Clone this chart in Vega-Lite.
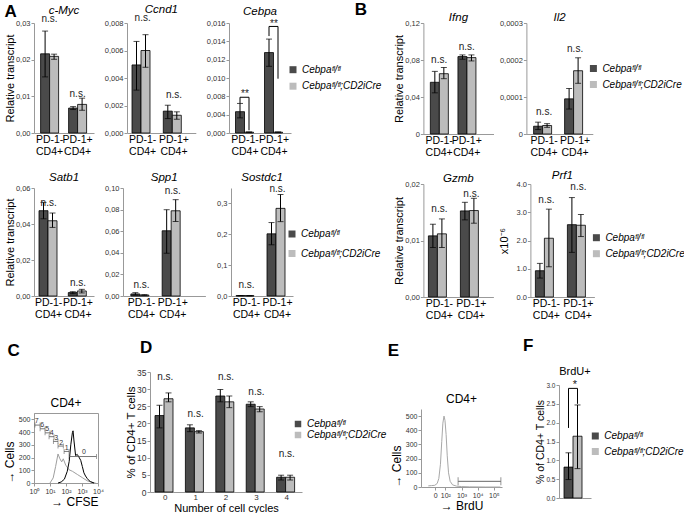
{
"$schema":"https://vega.github.io/schema/vega-lite/v6.json",
"padding":{"left":2,"top":0,"right":0,"bottom":0},
"config":{
 "font":"Liberation Sans",
 "view":{"stroke":null},
 "axis":{"labelFont":"Liberation Sans","titleFont":"Liberation Sans","labelFontSize":7.5,"labelColor":"#333","titleFontSize":11,"titleFontWeight":"normal","titleColor":"#000","domainColor":"#999","tickColor":"#999","tickSize":3,"labelPadding":1,"titlePadding":0,"grid":false,"labelFlush":false,"labelOverlap":false},
 "axisX":{"labelAngle":0},
 "axisBand":{"labelFontSize":10.5,"labelColor":"#000","labelLineHeight":12,"ticks":false},
 "title":{"font":"Liberation Sans","fontSize":11.5,"fontStyle":"italic","fontWeight":"normal","color":"#000","offset":1},
 "legend":{"orient":"none","labelFont":"Liberation Sans","labelFontSize":10,"labelFontStyle":"italic","labelColor":"#000","symbolType":"square","symbolSize":49,"symbolStrokeWidth":0,"rowPadding":6,"labelOffset":4,"labelLimit":300,"padding":0}
},
"datasets":{
 "bars":[
  {"p":"myc","g":"n","k":"a","v":0.0216,"lo":0.0153,"hi":0.0278},
  {"p":"myc","g":"n","k":"b","v":0.0209,"lo":0.0201,"hi":0.0215},
  {"p":"myc","g":"p","k":"a","v":0.0068,"lo":0.0064,"hi":0.0072},
  {"p":"myc","g":"p","k":"b","v":0.0078,"lo":0.0062,"hi":0.0095},
  {"p":"ccnd1","g":"n","k":"a","v":0.00495,"lo":0.00312,"hi":0.00666},
  {"p":"ccnd1","g":"n","k":"b","v":0.006,"lo":0.00478,"hi":0.00715},
  {"p":"ccnd1","g":"p","k":"a","v":0.00159,"lo":0.00105,"hi":0.00202},
  {"p":"ccnd1","g":"p","k":"b","v":0.00129,"lo":0.001,"hi":0.00154},
  {"p":"cebpa","g":"n","k":"a","v":0.0031,"lo":0.0022,"hi":0.0043},
  {"p":"cebpa","g":"n","k":"b","v":0.00012,"lo":0.00008,"hi":0.00016},
  {"p":"cebpa","g":"p","k":"a","v":0.0117,"lo":0.0097,"hi":0.01366},
  {"p":"cebpa","g":"p","k":"b","v":0.00012,"lo":0.00008,"hi":0.00016},
  {"p":"satb1","g":"n","k":"a","v":0.0474,"lo":0.0429,"hi":0.052},
  {"p":"satb1","g":"n","k":"b","v":0.0418,"lo":0.0381,"hi":0.0461},
  {"p":"satb1","g":"p","k":"a","v":0.0019,"lo":0.0013,"hi":0.0024},
  {"p":"satb1","g":"p","k":"b","v":0.0028,"lo":0.0017,"hi":0.0037},
  {"p":"spp1","g":"n","k":"a","v":0.0019,"lo":0.0009,"hi":0.0031},
  {"p":"spp1","g":"n","k":"b","v":0.0009,"lo":0.0006,"hi":0.0012},
  {"p":"spp1","g":"p","k":"a","v":0.0604,"lo":0.0396,"hi":0.0799},
  {"p":"spp1","g":"p","k":"b","v":0.0789,"lo":0.069,"hi":0.0892},
  {"p":"sost","g":"n","k":"a","v":0.0012,"lo":0.0008,"hi":0.0016},
  {"p":"sost","g":"n","k":"b","v":0.001,"lo":0.0008,"hi":0.0012},
  {"p":"sost","g":"p","k":"a","v":0.2015,"lo":0.166,"hi":0.238},
  {"p":"sost","g":"p","k":"b","v":0.284,"lo":0.241,"hi":0.329},
  {"p":"ifng","g":"n","k":"a","v":0.0559,"lo":0.0445,"hi":0.0677},
  {"p":"ifng","g":"n","k":"b","v":0.0652,"lo":0.0598,"hi":0.0719},
  {"p":"ifng","g":"p","k":"a","v":0.0837,"lo":0.0808,"hi":0.0855},
  {"p":"ifng","g":"p","k":"b","v":0.0826,"lo":0.079,"hi":0.0855},
  {"p":"il2","g":"n","k":"a","v":0.000021,"lo":0.000012,"hi":0.000032},
  {"p":"il2","g":"n","k":"b","v":0.000023,"lo":0.000018,"hi":0.000028},
  {"p":"il2","g":"p","k":"a","v":0.000095,"lo":0.0000674,"hi":0.000123},
  {"p":"il2","g":"p","k":"b","v":0.000171,"lo":0.000137,"hi":0.000206},
  {"p":"gzmb","g":"n","k":"a","v":0.01082,"lo":0.00876,"hi":0.01288},
  {"p":"gzmb","g":"n","k":"b","v":0.01118,"lo":0.00876,"hi":0.01382},
  {"p":"gzmb","g":"p","k":"a","v":0.01524,"lo":0.01365,"hi":0.01676},
  {"p":"gzmb","g":"p","k":"b","v":0.0153,"lo":0.01306,"hi":0.01747},
  {"p":"prf1","g":"n","k":"a","v":0.93,"lo":0.67,"hi":1.19},
  {"p":"prf1","g":"n","k":"b","v":2.08,"lo":1.07,"hi":3.11},
  {"p":"prf1","g":"p","k":"a","v":2.56,"lo":1.58,"hi":3.52},
  {"p":"prf1","g":"p","k":"b","v":2.54,"lo":2.14,"hi":2.92},
  {"p":"cyc","g":"0","k":"a","v":22.3,"lo":18.7,"hi":25.3},
  {"p":"cyc","g":"0","k":"b","v":27.2,"lo":26.3,"hi":28.9},
  {"p":"cyc","g":"1","k":"a","v":18.7,"lo":17.6,"hi":19.6},
  {"p":"cyc","g":"1","k":"b","v":17.6,"lo":17.2,"hi":17.9},
  {"p":"cyc","g":"2","k":"a","v":28.0,"lo":26.3,"hi":29.9},
  {"p":"cyc","g":"2","k":"b","v":26.3,"lo":24.6,"hi":28.0},
  {"p":"cyc","g":"3","k":"a","v":25.6,"lo":24.9,"hi":26.3},
  {"p":"cyc","g":"3","k":"b","v":24.2,"lo":23.4,"hi":24.9},
  {"p":"cyc","g":"4","k":"a","v":4.3,"lo":3.5,"hi":4.9},
  {"p":"cyc","g":"4","k":"b","v":4.3,"lo":3.5,"hi":4.9},
  {"p":"brdu","g":"x","k":"a","v":0.82,"lo":0.49,"hi":1.2},
  {"p":"brdu","g":"x","k":"b","v":1.64,"lo":0.78,"hi":2.47}
 ],
 "ns":[
  {"p":"myc","g":"n","y":0.0311,"t":"n.s."},{"p":"myc","g":"p","y":0.0107,"t":"n.s."},
  {"p":"ccnd1","g":"n","y":0.00837,"t":"n.s."},{"p":"ccnd1","g":"p","y":0.00276,"t":"n.s."},
  {"p":"cebpa","g":"n","y":0.0057,"t":"**"},{"p":"cebpa","g":"p","y":0.0159,"t":"**"},
  {"p":"satb1","g":"n","y":0.0516,"t":"n.s."},{"p":"satb1","g":"p","y":0.0071,"t":"n.s."},
  {"p":"spp1","g":"n","y":0.0102,"t":"n.s."},{"p":"spp1","g":"p","y":0.0969,"t":"n.s."},
  {"p":"sost","g":"n","y":0.035,"t":"n.s."},{"p":"sost","g":"p","y":0.347,"t":"n.s."},
  {"p":"ifng","g":"n","y":0.08,"t":"n.s."},{"p":"ifng","g":"p","y":0.094,"t":"n.s."},
  {"p":"il2","g":"n","y":0.00006,"t":"n.s."},{"p":"il2","g":"p","y":0.000229,"t":"n.s."},
  {"p":"gzmb","g":"n","y":0.0155,"t":"n.s."},{"p":"gzmb","g":"p","y":0.0182,"t":"n.s."},
  {"p":"prf1","g":"n","y":3.43,"t":"n.s."},{"p":"prf1","g":"p","y":3.9,"t":"n.s."},
  {"p":"cyc","g":"0","y":33.4,"t":"n.s."},{"p":"cyc","g":"1","y":22.7,"t":"n.s."},{"p":"cyc","g":"2","y":33.4,"t":"n.s."},{"p":"cyc","g":"3","y":29.3,"t":"n.s."},{"p":"cyc","g":"4","y":11.1,"t":"n.s."},
  {"p":"brdu","g":"x","y":3.0,"t":"*"}
 ],
 "br":[
  {"p":"cebpa","id":"c1","g":"n","k":"a","y":0.0043,"o":1},{"p":"cebpa","id":"c1","g":"n","k":"a","y":0.0052,"o":2},{"p":"cebpa","id":"c1","g":"n","k":"b","y":0.0052,"o":3},{"p":"cebpa","id":"c1","g":"n","k":"b","y":0.0004,"o":4},
  {"p":"cebpa","id":"c2","g":"p","k":"a","y":0.0141,"o":1},{"p":"cebpa","id":"c2","g":"p","k":"a","y":0.0155,"o":2},{"p":"cebpa","id":"c2","g":"p","k":"b","y":0.0155,"o":3},{"p":"cebpa","id":"c2","g":"p","k":"b","y":0.0079,"o":4},
  {"p":"brdu","id":"f1","g":"x","k":"a","y":1.86,"o":1},{"p":"brdu","id":"f1","g":"x","k":"a","y":2.91,"o":2},{"p":"brdu","id":"f1","g":"x","k":"b","y":2.91,"o":3},{"p":"brdu","id":"f1","g":"x","k":"b","y":2.5,"o":4}
 ],
 "cfse":[
  {"s":"g","x":1.0,"y":0},{"s":"g","x":1.2,"y":40},{"s":"g","x":1.35,"y":129},{"s":"g","x":1.5,"y":228},{"s":"g","x":1.62,"y":190},{"s":"g","x":1.73,"y":166},{"s":"g","x":1.83,"y":190},{"s":"g","x":1.98,"y":141},{"s":"g","x":2.19,"y":104},{"s":"g","x":2.4,"y":92},{"s":"g","x":2.71,"y":67},{"s":"g","x":3.02,"y":42},{"s":"g","x":3.33,"y":17},{"s":"g","x":3.65,"y":5},{"s":"g","x":3.85,"y":0},
  {"s":"k","x":1.5,"y":0},{"s":"k","x":1.7,"y":8},{"s":"k","x":1.9,"y":30},{"s":"k","x":2.08,"y":92},{"s":"k","x":2.2,"y":170},{"s":"k","x":2.3,"y":300},{"s":"k","x":2.4,"y":396},{"s":"k","x":2.44,"y":410},{"s":"k","x":2.5,"y":330},{"s":"k","x":2.6,"y":215},{"s":"k","x":2.7,"y":225},{"s":"k","x":2.8,"y":205},{"s":"k","x":2.92,"y":178},{"s":"k","x":3.02,"y":130},{"s":"k","x":3.12,"y":80},{"s":"k","x":3.22,"y":55},{"s":"k","x":3.33,"y":35},{"s":"k","x":3.45,"y":18},{"s":"k","x":3.54,"y":10},{"s":"k","x":3.75,"y":0}
 ],
 "gates":[
  {"n":"7","x1":0.06,"x2":0.38,"y":455,"lx":0.17,"ly":488},
  {"n":"6","x1":0.38,"x2":0.69,"y":426,"lx":0.52,"ly":455},
  {"n":"5","x1":0.69,"x2":1.0,"y":394,"lx":0.83,"ly":421},
  {"n":"4","x1":0.94,"x2":1.25,"y":364,"lx":1.1,"ly":389},
  {"n":"3","x1":1.21,"x2":1.5,"y":327,"lx":1.38,"ly":351},
  {"n":"2","x1":1.5,"x2":1.83,"y":290,"lx":1.7,"ly":314},
  {"n":"1","x1":1.88,"x2":2.19,"y":248,"lx":2.05,"ly":277},
  {"n":"0","x1":2.19,"x2":3.9,"y":208,"lx":3.12,"ly":240}
 ],
 "brd":[
  {"x":0.95,"y":8},{"x":1.15,"y":10},{"x":1.35,"y":12},{"x":1.5,"y":25},{"x":1.6,"y":60},{"x":1.7,"y":160},{"x":1.78,"y":320},{"x":1.85,"y":450},{"x":1.92,"y":500},{"x":1.98,"y":470},{"x":2.05,"y":370},{"x":2.12,"y":220},{"x":2.2,"y":100},{"x":2.3,"y":40},{"x":2.45,"y":15},{"x":2.7,"y":6},{"x":3.0,"y":3},{"x":3.5,"y":1},{"x":4.5,"y":0},{"x":5.4,"y":0}
 ],
 "bgate":[{"x1":2.79,"x2":5.43,"y":40}]
},
"resolve":{"scale":{"color":"independent"},"legend":{"color":"independent"}},
"spacing":15,
"vconcat":[
 {"bounds":"flush","spacing":389.4,
  "resolve":{"scale":{"color":"independent"},"legend":{"color":"independent"}},
  "hconcat":[
  {"title":{"text":"A","anchor":"start","fontSize":17,"fontWeight":"bold","fontStyle":"normal","offset":-17.5},
   "spacing":14,
   "resolve":{"scale":{"color":"independent"},"legend":{"color":"independent"}},
   "vconcat":[
    {"spacing":10,"resolve":{"scale":{"color":"independent"},"legend":{"color":"independent"}},
     "hconcat":[
      {"width":60,"height":110,"title":{"text":"c-Myc","offset":-2.5},
       "layer":[
        {"data":{"name":"bars"},"transform":[{"filter":"datum.p=='myc'"}],"mark":{"type":"bar","stroke":"#000","strokeWidth":0.8},
         "encoding":{"x":{"field":"g","type":"nominal","title":null,"scale":{"paddingInner":0,"paddingOuter":0.071,"align":0.4},"axis":{"labelExpr":"datum.value=='n'?['PD-1-','CD4+']:['PD-1+','CD4+']"}},
          "xOffset":{"field":"k","type":"nominal","scale":{"paddingInner":0,"paddingOuter":0.556}},
          "y":{"field":"v","type":"quantitative","title":"Relative transcript","scale":{"domain":[0,0.03]},"axis":{"tickCount":40,"values":[0,0.01,0.02,0.03],"labelExpr":"replace(format(datum.value,'.2f'),'.',',')"}},
          "color":{"field":"k","type":"nominal","scale":{"domain":["a","b"],"range":["#4a4a4a","#bcbcbc"]},"legend":null}}},
        {"data":{"name":"bars"},"transform":[{"filter":"datum.p=='myc'"}],"mark":{"type":"rule","color":"#000"},"encoding":{"x":{"field":"g","type":"nominal"},"xOffset":{"field":"k","type":"nominal"},"y":{"field":"lo","type":"quantitative"},"y2":{"field":"hi"}}},
        {"data":{"name":"bars"},"transform":[{"filter":"datum.p=='myc'"}],"mark":{"type":"tick","color":"#000","thickness":1,"size":6,"orient":"horizontal"},"encoding":{"x":{"field":"g","type":"nominal"},"xOffset":{"field":"k","type":"nominal"},"y":{"field":"lo","type":"quantitative"}}},
        {"data":{"name":"bars"},"transform":[{"filter":"datum.p=='myc'"}],"mark":{"type":"tick","color":"#000","thickness":1,"size":6,"orient":"horizontal"},"encoding":{"x":{"field":"g","type":"nominal"},"xOffset":{"field":"k","type":"nominal"},"y":{"field":"hi","type":"quantitative"}}},
        {"data":{"name":"ns"},"transform":[{"filter":"datum.p=='myc'"}],"mark":{"type":"text","fontSize":10,"color":"#222","baseline":"middle"},"encoding":{"x":{"field":"g","type":"nominal"},"y":{"field":"y","type":"quantitative"},"text":{"field":"t"}}}
       ]},
      {"width":68.8,"height":110,"title":{"text":"Ccnd1","offset":-2.5},
       "layer":[
        {"data":{"name":"bars"},"transform":[{"filter":"datum.p=='ccnd1'"}],"mark":{"type":"bar","stroke":"#000","strokeWidth":0.8},
         "encoding":{"x":{"field":"g","type":"nominal","title":null,"scale":{"paddingInner":0,"paddingOuter":0.099,"align":0},"axis":{"labelExpr":"datum.value=='n'?['PD-1-','CD4+']:['PD-1+','CD4+']"}},
          "xOffset":{"field":"k","type":"nominal","scale":{"paddingInner":0,"paddingOuter":0.74}},
          "y":{"field":"v","type":"quantitative","title":null,"scale":{"domain":[0,0.008]},"axis":{"tickCount":40,"values":[0,0.002,0.004,0.006,0.008],"labelExpr":"replace(format(datum.value,'.3f'),'.',',')"}},
          "color":{"field":"k","type":"nominal","scale":{"domain":["a","b"],"range":["#4a4a4a","#bcbcbc"]},"legend":null}}},
        {"data":{"name":"bars"},"transform":[{"filter":"datum.p=='ccnd1'"}],"mark":{"type":"rule","color":"#000"},"encoding":{"x":{"field":"g","type":"nominal"},"xOffset":{"field":"k","type":"nominal"},"y":{"field":"lo","type":"quantitative"},"y2":{"field":"hi"}}},
        {"data":{"name":"bars"},"transform":[{"filter":"datum.p=='ccnd1'"}],"mark":{"type":"tick","color":"#000","thickness":1,"size":6,"orient":"horizontal"},"encoding":{"x":{"field":"g","type":"nominal"},"xOffset":{"field":"k","type":"nominal"},"y":{"field":"lo","type":"quantitative"}}},
        {"data":{"name":"bars"},"transform":[{"filter":"datum.p=='ccnd1'"}],"mark":{"type":"tick","color":"#000","thickness":1,"size":6,"orient":"horizontal"},"encoding":{"x":{"field":"g","type":"nominal"},"xOffset":{"field":"k","type":"nominal"},"y":{"field":"hi","type":"quantitative"}}},
        {"data":{"name":"ns"},"transform":[{"filter":"datum.p=='ccnd1'"}],"mark":{"type":"text","fontSize":10,"color":"#222","baseline":"middle"},"encoding":{"x":{"field":"g","type":"nominal"},"y":{"field":"y","type":"quantitative"},"text":{"field":"t"}}}
       ]},
      {"width":62,"height":110,"title":{"text":"Cebpa","offset":1.5},
       "layer":[
        {"data":{"name":"bars"},"transform":[{"filter":"datum.p=='cebpa'"}],"mark":{"type":"bar","stroke":"#000","strokeWidth":0.8},
         "encoding":{"x":{"field":"g","type":"nominal","title":null,"scale":{"paddingInner":0,"paddingOuter":0.069,"align":0.375},"axis":{"labelExpr":"datum.value=='n'?['PD-1-','CD4+']:['PD-1+','CD4+']"}},
          "xOffset":{"field":"k","type":"nominal","scale":{"paddingInner":0,"paddingOuter":0.61}},
          "y":{"field":"v","type":"quantitative","title":null,"scale":{"domain":[0,0.016]},"axis":{"tickCount":40,"values":[0,0.0026667,0.0053333,0.008,0.0106667,0.0133333,0.016],"labelExpr":"['0,000','0,004','0,008','0,010','0,012','0,014','0,016'][round(datum.value*375)]"}},
          "color":{"field":"k","type":"nominal","scale":{"domain":["a","b"],"range":["#4a4a4a","#bcbcbc"]},"legend":{"title":null,"legendX":59,"legendY":41.7,"rowPadding":6.5,"labelExpr":"datum.label=='a'?'Cebpaᶠˡ/ᶠˡ':'Cebpaᶠˡ/ᶠˡ;CD2iCre'"}}}},
        {"data":{"name":"bars"},"transform":[{"filter":"datum.p=='cebpa'"}],"mark":{"type":"rule","color":"#000"},"encoding":{"x":{"field":"g","type":"nominal"},"xOffset":{"field":"k","type":"nominal"},"y":{"field":"lo","type":"quantitative"},"y2":{"field":"hi"}}},
        {"data":{"name":"bars"},"transform":[{"filter":"datum.p=='cebpa'"}],"mark":{"type":"tick","color":"#000","thickness":1,"size":6,"orient":"horizontal"},"encoding":{"x":{"field":"g","type":"nominal"},"xOffset":{"field":"k","type":"nominal"},"y":{"field":"lo","type":"quantitative"}}},
        {"data":{"name":"bars"},"transform":[{"filter":"datum.p=='cebpa'"}],"mark":{"type":"tick","color":"#000","thickness":1,"size":6,"orient":"horizontal"},"encoding":{"x":{"field":"g","type":"nominal"},"xOffset":{"field":"k","type":"nominal"},"y":{"field":"hi","type":"quantitative"}}},
        {"data":{"name":"br"},"transform":[{"filter":"datum.p=='cebpa'"}],"mark":{"type":"line","color":"#000","strokeWidth":1},"encoding":{"x":{"field":"g","type":"nominal"},"xOffset":{"field":"k","type":"nominal"},"y":{"field":"y","type":"quantitative"},"detail":{"field":"id"},"order":{"field":"o"}}},
        {"data":{"name":"ns"},"transform":[{"filter":"datum.p=='cebpa'"}],"mark":{"type":"text","fontSize":10,"color":"#222","baseline":"middle"},"encoding":{"x":{"field":"g","type":"nominal"},"y":{"field":"y","type":"quantitative"},"text":{"field":"t"}}}
       ]}
     ]},
    {"spacing":10,"resolve":{"scale":{"color":"independent"},"legend":{"color":"independent"}},
     "hconcat":[
      {"width":60,"height":108,"title":{"text":"Satb1"},
       "layer":[
        {"data":{"name":"bars"},"transform":[{"filter":"datum.p=='satb1'"}],"mark":{"type":"bar","stroke":"#000","strokeWidth":0.8},
         "encoding":{"x":{"field":"g","type":"nominal","title":null,"scale":{"paddingInner":0,"paddingOuter":0.024,"align":0},"axis":{"labelExpr":"datum.value=='n'?['PD-1-','CD4+']:['PD-1+','CD4+']"}},
          "xOffset":{"field":"k","type":"nominal","scale":{"paddingInner":0,"paddingOuter":0.63}},
          "y":{"field":"v","type":"quantitative","title":"Relative transcript","scale":{"domain":[0,0.06]},"axis":{"tickCount":40,"values":[0,0.02,0.04,0.06],"labelExpr":"replace(format(datum.value,'.2f'),'.',',')"}},
          "color":{"field":"k","type":"nominal","scale":{"domain":["a","b"],"range":["#4a4a4a","#bcbcbc"]},"legend":null}}},
        {"data":{"name":"bars"},"transform":[{"filter":"datum.p=='satb1'"}],"mark":{"type":"rule","color":"#000"},"encoding":{"x":{"field":"g","type":"nominal"},"xOffset":{"field":"k","type":"nominal"},"y":{"field":"lo","type":"quantitative"},"y2":{"field":"hi"}}},
        {"data":{"name":"bars"},"transform":[{"filter":"datum.p=='satb1'"}],"mark":{"type":"tick","color":"#000","thickness":1,"size":6,"orient":"horizontal"},"encoding":{"x":{"field":"g","type":"nominal"},"xOffset":{"field":"k","type":"nominal"},"y":{"field":"lo","type":"quantitative"}}},
        {"data":{"name":"bars"},"transform":[{"filter":"datum.p=='satb1'"}],"mark":{"type":"tick","color":"#000","thickness":1,"size":6,"orient":"horizontal"},"encoding":{"x":{"field":"g","type":"nominal"},"xOffset":{"field":"k","type":"nominal"},"y":{"field":"hi","type":"quantitative"}}},
        {"data":{"name":"ns"},"transform":[{"filter":"datum.p=='satb1'"}],"mark":{"type":"text","fontSize":10,"color":"#222","baseline":"middle"},"encoding":{"x":{"field":"g","type":"nominal"},"y":{"field":"y","type":"quantitative"},"text":{"field":"t"}}}
       ]},
      {"width":82.4,"height":108,"title":{"text":"Spp1"},
       "layer":[
        {"data":{"name":"bars"},"transform":[{"filter":"datum.p=='spp1'"}],"mark":{"type":"bar","stroke":"#000","strokeWidth":0.8},
         "encoding":{"x":{"field":"g","type":"nominal","title":null,"scale":{"paddingInner":0,"paddingOuter":0.316,"align":0.144},"axis":{"labelExpr":"datum.value=='n'?['PD-1-','CD4+']:['PD-1+','CD4+']"}},
          "xOffset":{"field":"k","type":"nominal","scale":{"paddingInner":0,"paddingOuter":0.74}},
          "y":{"field":"v","type":"quantitative","title":null,"scale":{"domain":[0,0.1]},"axis":{"tickCount":40,"values":[0,0.02,0.04,0.06,0.08,0.1],"labelExpr":"replace(format(datum.value,'.2f'),'.',',')"}},
          "color":{"field":"k","type":"nominal","scale":{"domain":["a","b"],"range":["#4a4a4a","#bcbcbc"]},"legend":null}}},
        {"data":{"name":"bars"},"transform":[{"filter":"datum.p=='spp1'"}],"mark":{"type":"rule","color":"#000"},"encoding":{"x":{"field":"g","type":"nominal"},"xOffset":{"field":"k","type":"nominal"},"y":{"field":"lo","type":"quantitative"},"y2":{"field":"hi"}}},
        {"data":{"name":"bars"},"transform":[{"filter":"datum.p=='spp1'"}],"mark":{"type":"tick","color":"#000","thickness":1,"size":6,"orient":"horizontal"},"encoding":{"x":{"field":"g","type":"nominal"},"xOffset":{"field":"k","type":"nominal"},"y":{"field":"lo","type":"quantitative"}}},
        {"data":{"name":"bars"},"transform":[{"filter":"datum.p=='spp1'"}],"mark":{"type":"tick","color":"#000","thickness":1,"size":6,"orient":"horizontal"},"encoding":{"x":{"field":"g","type":"nominal"},"xOffset":{"field":"k","type":"nominal"},"y":{"field":"hi","type":"quantitative"}}},
        {"data":{"name":"ns"},"transform":[{"filter":"datum.p=='spp1'"}],"mark":{"type":"text","fontSize":10,"color":"#222","baseline":"middle"},"encoding":{"x":{"field":"g","type":"nominal"},"y":{"field":"y","type":"quantitative"},"text":{"field":"t"}}}
       ]},
      {"width":62,"height":108,"title":{"text":"Sostdc1","offset":0},
       "layer":[
        {"data":{"name":"bars"},"transform":[{"filter":"datum.p=='sost'"}],"mark":{"type":"bar","stroke":"#000","strokeWidth":0.8},
         "encoding":{"x":{"field":"g","type":"nominal","title":null,"scale":{"paddingInner":0,"paddingOuter":0},"axis":{"labelExpr":"datum.value=='n'?['PD-1-','CD4+']:['PD-1+','CD4+']"}},
          "xOffset":{"field":"k","type":"nominal","scale":{"paddingInner":0,"paddingOuter":0.72}},
          "y":{"field":"v","type":"quantitative","title":null,"scale":{"domain":[0,0.35]},"axis":{"tickCount":40,"values":[0,0.1,0.2,0.3],"labelExpr":"replace(format(datum.value,'.1f'),'.',',')"}},
          "color":{"field":"k","type":"nominal","scale":{"domain":["a","b"],"range":["#4a4a4a","#bcbcbc"]},"legend":{"title":null,"legendX":56,"legendY":41,"rowPadding":9.5,"labelExpr":"datum.label=='a'?'Cebpaᶠˡ/ᶠˡ':'Cebpaᶠˡ/ᶠˡ;CD2iCre'"}}}},
        {"data":{"name":"bars"},"transform":[{"filter":"datum.p=='sost'"}],"mark":{"type":"rule","color":"#000"},"encoding":{"x":{"field":"g","type":"nominal"},"xOffset":{"field":"k","type":"nominal"},"y":{"field":"lo","type":"quantitative"},"y2":{"field":"hi"}}},
        {"data":{"name":"bars"},"transform":[{"filter":"datum.p=='sost'"}],"mark":{"type":"tick","color":"#000","thickness":1,"size":6,"orient":"horizontal"},"encoding":{"x":{"field":"g","type":"nominal"},"xOffset":{"field":"k","type":"nominal"},"y":{"field":"lo","type":"quantitative"}}},
        {"data":{"name":"bars"},"transform":[{"filter":"datum.p=='sost'"}],"mark":{"type":"tick","color":"#000","thickness":1,"size":6,"orient":"horizontal"},"encoding":{"x":{"field":"g","type":"nominal"},"xOffset":{"field":"k","type":"nominal"},"y":{"field":"hi","type":"quantitative"}}},
        {"data":{"name":"ns"},"transform":[{"filter":"datum.p=='sost'"}],"mark":{"type":"text","fontSize":10,"color":"#222","baseline":"middle"},"encoding":{"x":{"field":"g","type":"nominal"},"y":{"field":"y","type":"quantitative"},"text":{"field":"t"}}}
       ]}
     ]}
   ]},
  {"title":{"text":"B","anchor":"start","fontSize":17,"fontWeight":"bold","fontStyle":"normal","offset":-6.5,"dx":-39},
   "spacing":11,
   "resolve":{"scale":{"color":"independent"},"legend":{"color":"independent"}},
   "vconcat":[
    {"spacing":5,"resolve":{"scale":{"color":"independent"},"legend":{"color":"independent"}},
     "hconcat":[
      {"width":70.1,"height":111,"title":{"text":"Ifng","offset":-4.5},
       "layer":[
        {"data":{"name":"bars"},"transform":[{"filter":"datum.p=='ifng'"}],"mark":{"type":"bar","stroke":"#000","strokeWidth":0.8},
         "encoding":{"x":{"field":"g","type":"nominal","title":null,"scale":{"paddingInner":0,"paddingOuter":0.27,"align":0.13},"axis":{"labelExpr":"datum.value=='n'?['PD-1-','CD4+']:['PD-1+','CD4+']"}},
          "xOffset":{"field":"k","type":"nominal","scale":{"paddingInner":0,"paddingOuter":0.53}},
          "y":{"field":"v","type":"quantitative","title":"Relative transcript","scale":{"domain":[0,0.12]},"axis":{"tickCount":40,"values":[0,0.04,0.08,0.12],"labelExpr":"datum.value==0?'0':replace(format(datum.value,'.2f'),'.',',')"}},
          "color":{"field":"k","type":"nominal","scale":{"domain":["a","b"],"range":["#4a4a4a","#bcbcbc"]},"legend":null}}},
        {"data":{"name":"bars"},"transform":[{"filter":"datum.p=='ifng'"}],"mark":{"type":"rule","color":"#000"},"encoding":{"x":{"field":"g","type":"nominal"},"xOffset":{"field":"k","type":"nominal"},"y":{"field":"lo","type":"quantitative"},"y2":{"field":"hi"}}},
        {"data":{"name":"bars"},"transform":[{"filter":"datum.p=='ifng'"}],"mark":{"type":"tick","color":"#000","thickness":1,"size":6,"orient":"horizontal"},"encoding":{"x":{"field":"g","type":"nominal"},"xOffset":{"field":"k","type":"nominal"},"y":{"field":"lo","type":"quantitative"}}},
        {"data":{"name":"bars"},"transform":[{"filter":"datum.p=='ifng'"}],"mark":{"type":"tick","color":"#000","thickness":1,"size":6,"orient":"horizontal"},"encoding":{"x":{"field":"g","type":"nominal"},"xOffset":{"field":"k","type":"nominal"},"y":{"field":"hi","type":"quantitative"}}},
        {"data":{"name":"ns"},"transform":[{"filter":"datum.p=='ifng'"}],"mark":{"type":"text","fontSize":10,"color":"#222","baseline":"middle"},"encoding":{"x":{"field":"g","type":"nominal"},"y":{"field":"y","type":"quantitative"},"text":{"field":"t"}}}
       ]},
      {"width":66.4,"height":111,"title":{"text":"Il2","offset":-4.5},
       "layer":[
        {"data":{"name":"bars"},"transform":[{"filter":"datum.p=='il2'"}],"mark":{"type":"bar","stroke":"#000","strokeWidth":0.8},
         "encoding":{"x":{"field":"g","type":"nominal","title":null,"scale":{"paddingInner":0,"paddingOuter":0.071,"align":0.5},"axis":{"labelExpr":"datum.value=='n'?['PD-1-','CD4+']:['PD-1+','CD4+']"}},
          "xOffset":{"field":"k","type":"nominal","scale":{"paddingInner":0,"paddingOuter":0.72}},
          "y":{"field":"v","type":"quantitative","title":null,"scale":{"domain":[0,0.0003]},"axis":{"tickCount":40,"values":[0,0.0001,0.0002,0.0003],"labelExpr":"datum.value==0?'0':replace(format(datum.value,'.4f'),'.',',')"}},
          "color":{"field":"k","type":"nominal","scale":{"domain":["a","b"],"range":["#4a4a4a","#bcbcbc"]},"legend":{"title":null,"legendX":62,"legendY":40.5,"rowPadding":6,"labelExpr":"datum.label=='a'?'Cebpaᶠˡ/ᶠˡ':'Cebpaᶠˡ/ᶠˡ;CD2iCre'"}}}},
        {"data":{"name":"bars"},"transform":[{"filter":"datum.p=='il2'"}],"mark":{"type":"rule","color":"#000"},"encoding":{"x":{"field":"g","type":"nominal"},"xOffset":{"field":"k","type":"nominal"},"y":{"field":"lo","type":"quantitative"},"y2":{"field":"hi"}}},
        {"data":{"name":"bars"},"transform":[{"filter":"datum.p=='il2'"}],"mark":{"type":"tick","color":"#000","thickness":1,"size":6,"orient":"horizontal"},"encoding":{"x":{"field":"g","type":"nominal"},"xOffset":{"field":"k","type":"nominal"},"y":{"field":"lo","type":"quantitative"}}},
        {"data":{"name":"bars"},"transform":[{"filter":"datum.p=='il2'"}],"mark":{"type":"tick","color":"#000","thickness":1,"size":6,"orient":"horizontal"},"encoding":{"x":{"field":"g","type":"nominal"},"xOffset":{"field":"k","type":"nominal"},"y":{"field":"hi","type":"quantitative"}}},
        {"data":{"name":"ns"},"transform":[{"filter":"datum.p=='il2'"}],"mark":{"type":"text","fontSize":10,"color":"#222","baseline":"middle"},"encoding":{"x":{"field":"g","type":"nominal"},"y":{"field":"y","type":"quantitative"},"text":{"field":"t"}}}
       ]}
     ]},
    {"spacing":5,"resolve":{"scale":{"color":"independent"},"legend":{"color":"independent"}},
     "hconcat":[
      {"width":70,"height":113,"title":{"text":"Gzmb","offset":-4},
       "layer":[
        {"data":{"name":"bars"},"transform":[{"filter":"datum.p=='gzmb'"}],"mark":{"type":"bar","stroke":"#000","strokeWidth":0.8},
         "encoding":{"x":{"field":"g","type":"nominal","title":null,"scale":{"paddingInner":0,"paddingOuter":0.094,"align":0},"axis":{"labelExpr":"datum.value=='n'?['PD-1-','CD4+']:['PD-1+','CD4+']"}},
          "xOffset":{"field":"k","type":"nominal","scale":{"paddingInner":0,"paddingOuter":0.78}},
          "y":{"field":"v","type":"quantitative","title":"Relative transcript","scale":{"domain":[0,0.02]},"axis":{"tickCount":40,"values":[0,0.01,0.02],"labelExpr":"replace(format(datum.value,'.2f'),'.',',')"}},
          "color":{"field":"k","type":"nominal","scale":{"domain":["a","b"],"range":["#4a4a4a","#bcbcbc"]},"legend":null}}},
        {"data":{"name":"bars"},"transform":[{"filter":"datum.p=='gzmb'"}],"mark":{"type":"rule","color":"#000"},"encoding":{"x":{"field":"g","type":"nominal"},"xOffset":{"field":"k","type":"nominal"},"y":{"field":"lo","type":"quantitative"},"y2":{"field":"hi"}}},
        {"data":{"name":"bars"},"transform":[{"filter":"datum.p=='gzmb'"}],"mark":{"type":"tick","color":"#000","thickness":1,"size":6,"orient":"horizontal"},"encoding":{"x":{"field":"g","type":"nominal"},"xOffset":{"field":"k","type":"nominal"},"y":{"field":"lo","type":"quantitative"}}},
        {"data":{"name":"bars"},"transform":[{"filter":"datum.p=='gzmb'"}],"mark":{"type":"tick","color":"#000","thickness":1,"size":6,"orient":"horizontal"},"encoding":{"x":{"field":"g","type":"nominal"},"xOffset":{"field":"k","type":"nominal"},"y":{"field":"hi","type":"quantitative"}}},
        {"data":{"name":"ns"},"transform":[{"filter":"datum.p=='gzmb'"}],"mark":{"type":"text","fontSize":10,"color":"#222","baseline":"middle"},"encoding":{"x":{"field":"g","type":"nominal"},"y":{"field":"y","type":"quantitative"},"text":{"field":"t"}}}
       ]},
      {"width":64,"height":113,"title":{"text":"Prf1","offset":-1},
       "layer":[
        {"data":{"name":"bars"},"transform":[{"filter":"datum.p=='prf1'"}],"mark":{"type":"bar","stroke":"#000","strokeWidth":0.8},
         "encoding":{"x":{"field":"g","type":"nominal","title":null,"scale":{"paddingInner":0,"paddingOuter":0},"axis":{"labelExpr":"datum.value=='n'?['PD-1-','CD4+']:['PD-1+','CD4+']"}},
          "xOffset":{"field":"k","type":"nominal","scale":{"paddingInner":0,"paddingOuter":0.78}},
          "y":{"field":"v","type":"quantitative","title":"x10⁻⁶","scale":{"domain":[0,4]},"axis":{"tickCount":40,"values":[0,1,2,3,4],"titlePadding":6}},
          "color":{"field":"k","type":"nominal","scale":{"domain":["a","b"],"range":["#4a4a4a","#bcbcbc"]},"legend":{"title":null,"legendX":61,"legendY":48.7,"rowPadding":6,"labelExpr":"datum.label=='a'?'Cebpaᶠˡ/ᶠˡ':'Cebpaᶠˡ/ᶠˡ;CD2iCre'"}}}},
        {"data":{"name":"bars"},"transform":[{"filter":"datum.p=='prf1'"}],"mark":{"type":"rule","color":"#000"},"encoding":{"x":{"field":"g","type":"nominal"},"xOffset":{"field":"k","type":"nominal"},"y":{"field":"lo","type":"quantitative"},"y2":{"field":"hi"}}},
        {"data":{"name":"bars"},"transform":[{"filter":"datum.p=='prf1'"}],"mark":{"type":"tick","color":"#000","thickness":1,"size":6,"orient":"horizontal"},"encoding":{"x":{"field":"g","type":"nominal"},"xOffset":{"field":"k","type":"nominal"},"y":{"field":"lo","type":"quantitative"}}},
        {"data":{"name":"bars"},"transform":[{"filter":"datum.p=='prf1'"}],"mark":{"type":"tick","color":"#000","thickness":1,"size":6,"orient":"horizontal"},"encoding":{"x":{"field":"g","type":"nominal"},"xOffset":{"field":"k","type":"nominal"},"y":{"field":"hi","type":"quantitative"}}},
        {"data":{"name":"ns"},"transform":[{"filter":"datum.p=='prf1'"}],"mark":{"type":"text","fontSize":10,"color":"#222","baseline":"middle"},"encoding":{"x":{"field":"g","type":"nominal"},"y":{"field":"y","type":"quantitative"},"text":{"field":"t"}}}
       ]}
     ]}
   ]}
 ]},
 {"spacing":0,
  "resolve":{"scale":{"color":"independent"},"legend":{"color":"independent"}},
  "hconcat":[
   {"spacing":0,"resolve":{"scale":{"color":"independent"},"legend":{"color":"independent"}},
    "vconcat":[
     {"width":91,"height":36,"title":{"text":"C","anchor":"start","fontSize":17,"fontWeight":"bold","fontStyle":"normal","offset":0,"dx":-26.6},"data":{"values":[{}]},"mark":{"type":"text","text":""}},
     {"width":64,"height":70,"title":{"text":"CD4+","fontStyle":"normal","fontSize":12,"offset":3},
      "view":{"stroke":"#999","strokeWidth":1},
      "layer":[
       {"data":{"name":"cfse"},"mark":{"type":"line","strokeWidth":1},
        "encoding":{"x":{"field":"x","type":"quantitative","title":"→ CFSE","scale":{"domain":[0,4]},"axis":{"tickCount":40,"values":[0,1,2,3,4],"labelExpr":"['10⁰','10¹','10²','10³','10⁴'][datum.value]","labelFontSize":7,"titleAnchor":"end","titleFontSize":12,"titlePadding":2}},
         "y":{"field":"y","type":"quantitative","title":"→ Cells","scale":{"domain":[0,520]},"axis":{"tickCount":40,"values":[0,100,200,300,400,500],"labelFontSize":7,"titleAnchor":"start","titleFontSize":12,"titlePadding":2}},
         "stroke":{"field":"s","type":"nominal","scale":{"domain":["g","k"],"range":["#9e9e9e","#000000"]},"legend":null}}},
       {"data":{"name":"gates"},"mark":{"type":"rule","color":"#555","strokeWidth":0.8},"encoding":{"x":{"field":"x1","type":"quantitative"},"x2":{"field":"x2"},"y":{"field":"y","type":"quantitative"}}},
       {"data":{"name":"gates"},"mark":{"type":"tick","orient":"vertical","size":5,"thickness":0.8,"color":"#555"},"encoding":{"x":{"field":"x1","type":"quantitative"},"y":{"field":"y","type":"quantitative"}}},
       {"data":{"name":"gates"},"mark":{"type":"tick","orient":"vertical","size":5,"thickness":0.8,"color":"#555"},"encoding":{"x":{"field":"x2","type":"quantitative"},"y":{"field":"y","type":"quantitative"}}},
       {"data":{"name":"gates"},"mark":{"type":"text","fontSize":7,"color":"#333","baseline":"middle"},"encoding":{"x":{"field":"lx","type":"quantitative"},"y":{"field":"ly","type":"quantitative"},"text":{"field":"n"}}}
      ]}
    ]},
   {"spacing":0,"resolve":{"scale":{"color":"independent"},"legend":{"color":"independent"}},
    "vconcat":[
     {"width":10,"height":5,"title":{"text":"D","anchor":"start","fontSize":17,"fontWeight":"bold","fontStyle":"normal","offset":0,"dx":-10},"data":{"values":[{}]},"mark":{"type":"text","text":""}},
     {"width":152,"height":120,
      "layer":[
       {"data":{"name":"bars"},"transform":[{"filter":"datum.p=='cyc'"}],"mark":{"type":"bar","stroke":"#000","strokeWidth":0.8},
        "encoding":{"x":{"field":"g","type":"nominal","title":"Number of cell cycles","scale":{"paddingInner":0,"paddingOuter":0},"axis":{"labelFontSize":8,"labelColor":"#333","titleFontSize":11,"labelPadding":1,"titlePadding":1}},
         "xOffset":{"field":"k","type":"nominal","scale":{"paddingInner":0,"paddingOuter":0.69}},
         "y":{"field":"v","type":"quantitative","title":"% of CD4+ T cells","scale":{"domain":[0,35]},"axis":{"tickCount":40,"values":[0,5,10,15,20,25,30,35],"labelFontSize":8.5,"titleFontSize":11.5}},
         "color":{"field":"k","type":"nominal","scale":{"domain":["a","b"],"range":["#4a4a4a","#bcbcbc"]},"legend":{"title":null,"legendX":143,"legendY":47,"labelFontSize":10,"rowPadding":1,"symbolSize":42,"labelExpr":"datum.label=='a'?'Cebpaᶠˡ/ᶠˡ':'Cebpaᶠˡ/ᶠˡ;CD2iCre'"}}}},
       {"data":{"name":"bars"},"transform":[{"filter":"datum.p=='cyc'"}],"mark":{"type":"rule","color":"#000"},"encoding":{"x":{"field":"g","type":"nominal"},"xOffset":{"field":"k","type":"nominal"},"y":{"field":"lo","type":"quantitative"},"y2":{"field":"hi"}}},
       {"data":{"name":"bars"},"transform":[{"filter":"datum.p=='cyc'"}],"mark":{"type":"tick","color":"#000","thickness":1,"size":6,"orient":"horizontal"},"encoding":{"x":{"field":"g","type":"nominal"},"xOffset":{"field":"k","type":"nominal"},"y":{"field":"lo","type":"quantitative"}}},
       {"data":{"name":"bars"},"transform":[{"filter":"datum.p=='cyc'"}],"mark":{"type":"tick","color":"#000","thickness":1,"size":6,"orient":"horizontal"},"encoding":{"x":{"field":"g","type":"nominal"},"xOffset":{"field":"k","type":"nominal"},"y":{"field":"hi","type":"quantitative"}}},
       {"data":{"name":"ns"},"transform":[{"filter":"datum.p=='cyc'"}],"mark":{"type":"text","fontSize":10,"color":"#222","baseline":"middle"},"encoding":{"x":{"field":"g","type":"nominal"},"y":{"field":"y","type":"quantitative"},"text":{"field":"t"}}}
      ]}
    ]},
   {"spacing":0,"resolve":{"scale":{"color":"independent"},"legend":{"color":"independent"}},
    "vconcat":[
     {"width":101.7,"height":33,"title":{"text":"E","anchor":"start","fontSize":17,"fontWeight":"bold","fontStyle":"normal","offset":0,"dx":-33.3},"data":{"values":[{}]},"mark":{"type":"text","text":""}},
     {"width":81,"height":78,"title":{"text":"CD4+","fontStyle":"normal","fontSize":12,"offset":3},
      "layer":[
       {"data":{"name":"brd"},"mark":{"type":"line","strokeWidth":1,"color":"#a8a8a8"},
        "encoding":{"x":{"field":"x","type":"quantitative","title":"→ BrdU","scale":{"domain":[0.92,5.47]},"axis":{"tickCount":40,"values":[1.38,2,3,4,5],"labelExpr":"datum.value<1.5?'0':['','','10²','10³','10⁴','10⁵'][round(datum.value)]","labelFontSize":7,"titleFontSize":12,"titlePadding":2}},
         "y":{"field":"y","type":"quantitative","title":"→ Cells","scale":{"domain":[0,527]},"axis":{"tickCount":40,"values":[0,100,200,300,400,500],"labelFontSize":7,"titleAnchor":"start","titleFontSize":12,"titlePadding":2}}}},
       {"data":{"name":"bgate"},"mark":{"type":"rule","color":"#666","strokeWidth":1},"encoding":{"x":{"field":"x1","type":"quantitative"},"x2":{"field":"x2"},"y":{"field":"y","type":"quantitative"}}},
       {"data":{"name":"bgate"},"mark":{"type":"tick","orient":"vertical","size":8,"thickness":1,"color":"#666"},"encoding":{"x":{"field":"x1","type":"quantitative"},"y":{"field":"y","type":"quantitative"}}},
       {"data":{"name":"bgate"},"mark":{"type":"tick","orient":"vertical","size":8,"thickness":1,"color":"#666"},"encoding":{"x":{"field":"x2","type":"quantitative"},"y":{"field":"y","type":"quantitative"}}}
      ]}
    ]},
   {"spacing":0,"resolve":{"scale":{"color":"independent"},"legend":{"color":"independent"}},
    "vconcat":[
     {"width":10,"height":1,"title":{"text":"F","anchor":"start","fontSize":17,"fontWeight":"bold","fontStyle":"normal","offset":0,"dx":-36},"data":{"values":[{}]},"mark":{"type":"text","text":""}},
     {"width":32,"height":113,"title":{"text":"BrdU+","fontStyle":"normal","fontSize":11,"offset":2},
      "layer":[
       {"data":{"name":"bars"},"transform":[{"filter":"datum.p=='brdu'"}],"mark":{"type":"bar","stroke":"#000","strokeWidth":0.8},
        "encoding":{"x":{"field":"g","type":"nominal","title":null,"scale":{"paddingInner":0,"paddingOuter":0},"axis":{"labels":false,"ticks":false}},
         "xOffset":{"field":"k","type":"nominal","scale":{"paddingInner":0,"paddingOuter":0.78}},
         "y":{"field":"v","type":"quantitative","title":"% of CD4+ T cells","scale":{"domain":[0,3]},"axis":{"tickCount":40,"values":[0,0.5,1,1.5,2,2.5,3],"labelFontSize":6.5,"titleFontSize":10.5}},
         "color":{"field":"k","type":"nominal","scale":{"domain":["a","b"],"range":["#4a4a4a","#bcbcbc"]},"legend":{"title":null,"legendX":31.3,"legendY":46,"rowPadding":5.5,"labelExpr":"datum.label=='a'?'Cebpaᶠˡ/ᶠˡ':'Cebpaᶠˡ/ᶠˡ;CD2iCre'"}}}},
       {"data":{"name":"bars"},"transform":[{"filter":"datum.p=='brdu'"}],"mark":{"type":"rule","color":"#000"},"encoding":{"x":{"field":"g","type":"nominal"},"xOffset":{"field":"k","type":"nominal"},"y":{"field":"lo","type":"quantitative"},"y2":{"field":"hi"}}},
       {"data":{"name":"bars"},"transform":[{"filter":"datum.p=='brdu'"}],"mark":{"type":"tick","color":"#000","thickness":1,"size":6,"orient":"horizontal"},"encoding":{"x":{"field":"g","type":"nominal"},"xOffset":{"field":"k","type":"nominal"},"y":{"field":"lo","type":"quantitative"}}},
       {"data":{"name":"bars"},"transform":[{"filter":"datum.p=='brdu'"}],"mark":{"type":"tick","color":"#000","thickness":1,"size":6,"orient":"horizontal"},"encoding":{"x":{"field":"g","type":"nominal"},"xOffset":{"field":"k","type":"nominal"},"y":{"field":"hi","type":"quantitative"}}},
       {"data":{"name":"br"},"transform":[{"filter":"datum.p=='brdu'"}],"mark":{"type":"line","color":"#000","strokeWidth":1},"encoding":{"x":{"field":"g","type":"nominal"},"xOffset":{"field":"k","type":"nominal"},"y":{"field":"y","type":"quantitative"},"detail":{"field":"id"},"order":{"field":"o"}}},
       {"data":{"name":"ns"},"transform":[{"filter":"datum.p=='brdu'"}],"mark":{"type":"text","fontSize":11,"color":"#222","baseline":"middle"},"encoding":{"x":{"field":"g","type":"nominal"},"y":{"field":"y","type":"quantitative"},"text":{"field":"t"}}}
      ]}
    ]}
  ]}
]
}
